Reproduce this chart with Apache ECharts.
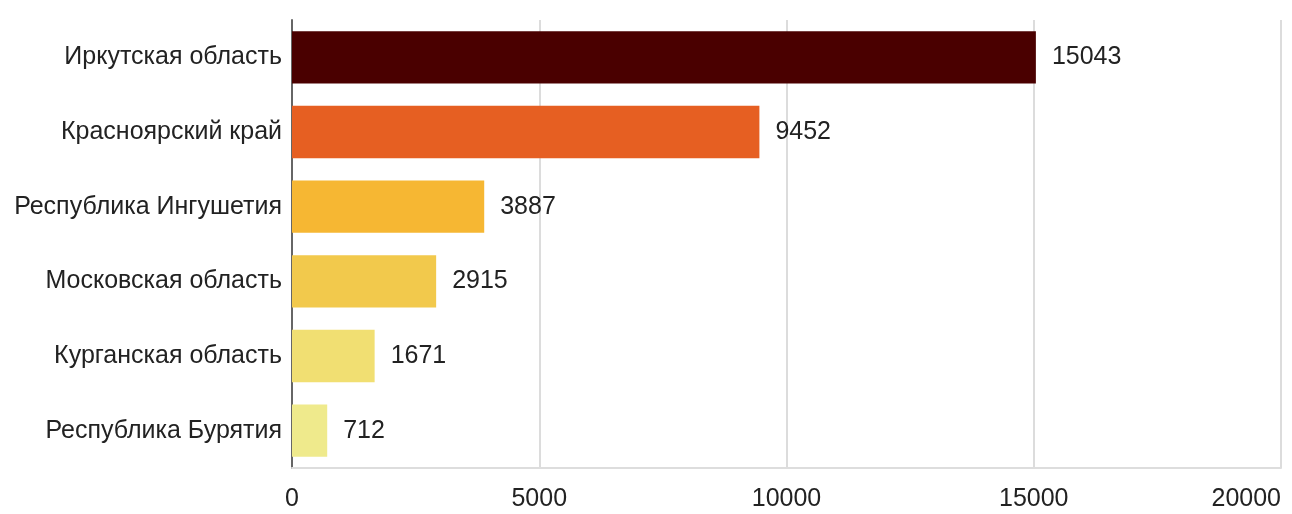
<!DOCTYPE html>
<html>
<head>
<meta charset="utf-8">
<script src="https://cdn.jsdelivr.net/npm/echarts@6/dist/echarts.min.js"></script>
<style>
  html, body { margin: 0; padding: 0; background: #fff; }
  #main { width: 1292px; height: 514px; }
</style>
</head>
<body>
<div id="main"></div>
<script>
// регионы сверху вниз
var regions = ['Иркутская область', 'Красноярский край', 'Республика Ингушетия',
               'Московская область', 'Курганская область', 'Республика Бурятия'];
var counts = [15043, 9452, 3887, 2915, 1671, 712];
var barColors = ['#4a0000', '#e65f22', '#f6b733', '#f2c94c', '#f1df72', '#efea8c'];
var xTicks = [0, 5000, 10000, 15000, 20000];

var myChart = echarts.init(document.getElementById('main'));

var seriesData = [];
for (var i = 0; i < counts.length; i++) {
    seriesData.push({
        value: counts[i],
        itemStyle: { color: barColors[i] }
    });
}

var option = {
    animation: false,
    grid: { left: 292, right: 11, top: 20, bottom: 46, outerBoundsMode: 'none', containLabel: false },
    xAxis: {
        type: 'value',
        min: xTicks[0],
        max: xTicks[xTicks.length - 1],
        interval: xTicks[1] - xTicks[0],
        axisLine: { show: true, lineStyle: { color: '#ddd', width: 2 } },
        axisTick: { show: false },
        splitLine: { lineStyle: { color: '#dcdcdc', width: 2 } },
        axisLabel: {
            color: '#222', fontSize: 25, fontFamily: 'Liberation Sans', margin: 19,
            alignMaxLabel: 'right',
            formatter: function (v) { return String(v); }
        }
    },
    yAxis: {
        type: 'category',
        inverse: true,
        data: regions,
        axisLine: { show: true, lineStyle: { color: '#666', width: 2 } },
        axisTick: { show: false },
        axisLabel: { color: '#222', fontSize: 25, fontFamily: 'Liberation Sans', margin: 10 }
    },
    series: [{
        type: 'bar',
        data: seriesData,
        barWidth: '70%',
        label: {
            show: true,
            position: 'right',
            distance: 16,
            color: '#222',
            fontSize: 25,
            fontFamily: 'Liberation Sans'
        }
    }]
};

myChart.setOption(option);
window.addEventListener('resize', function () {
    myChart.resize();
});
</script>
</body>
</html>
